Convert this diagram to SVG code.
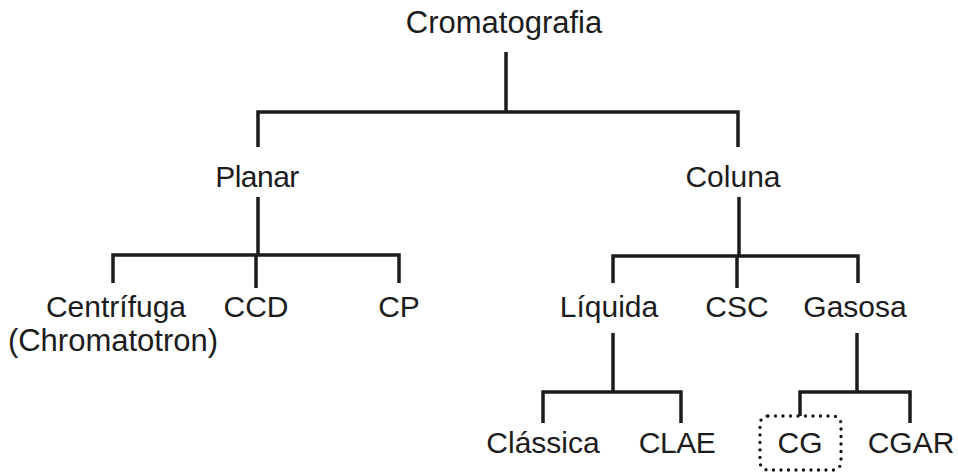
<svg xmlns="http://www.w3.org/2000/svg" width="958" height="472" viewBox="0 0 958 472">
<style>
text{font-family:"Liberation Sans",Arial,sans-serif;font-size:30px;fill:#1c1c1c;text-anchor:middle}
.c{fill:none;stroke:#1c1c1c;stroke-width:3.5;stroke-linecap:butt;stroke-linejoin:miter}
.dot{fill:none;stroke:#111;stroke-width:3.3;stroke-linecap:round;stroke-dasharray:0 7.5}
</style>
<rect width="958" height="472" fill="#fff"/>
<g id="connectors">
<path class="c" d="M506 52V112M258 147V112H738V147"/>
<path class="c" d="M258 197V255M113 283V255H399V283M256 255V288"/>
<path class="c" d="M739 197V256M613 283V256H858V283M737 256V288"/>
<path class="c" d="M613 333V392M543 423V392H681V423"/>
<path class="c" d="M857 333V392M800 416V392H910V423"/>
</g>
<g id="n-cromatografia"><text x="504" y="33" style="font-size:31px">Cromatografia</text></g>
<g id="n-planar"><text x="257" y="187" style="letter-spacing:-0.5px">Planar</text></g>
<g id="n-coluna"><text x="733" y="187">Coluna</text></g>
<g id="n-centrifuga"><text x="116" y="317">Centrífuga</text><text x="113" y="351" style="font-size:31px">(Chromatotron)</text></g>
<g id="n-ccd"><text x="256" y="317">CCD</text></g>
<g id="n-cp"><text x="399" y="317">CP</text></g>
<g id="n-liquida"><text x="609" y="317">Líquida</text></g>
<g id="n-csc"><text x="737" y="317">CSC</text></g>
<g id="n-gasosa"><text x="855" y="317">Gasosa</text></g>
<g id="n-classica"><text x="543" y="453">Clássica</text></g>
<g id="n-clae"><text x="677" y="453" style="letter-spacing:-0.5px">CLAE</text></g>
<g id="n-cg"><rect class="dot" x="760" y="416" width="81" height="54" rx="8"/><text x="800" y="453">CG</text></g>
<g id="n-cgar"><text x="911" y="453">CGAR</text></g>
</svg>
